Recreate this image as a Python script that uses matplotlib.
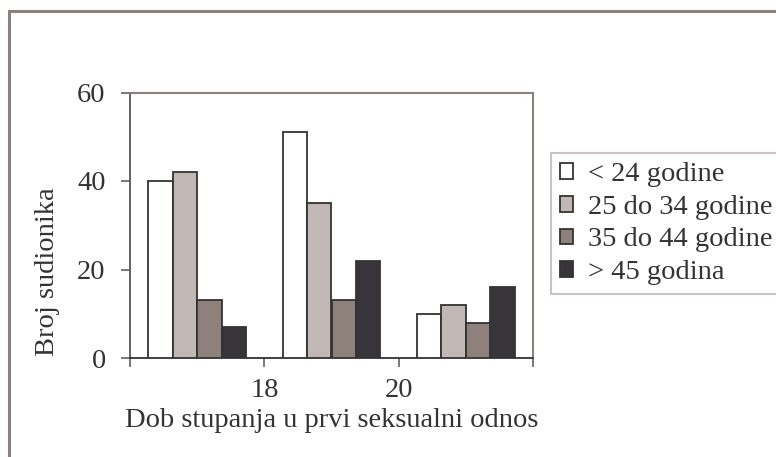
import matplotlib
matplotlib.use("Agg")
import matplotlib.pyplot as plt
from matplotlib.patches import Rectangle
import numpy as np

# Age at first intercourse (category boundaries labelled 18 and 20)
groups = ["< 18", "18 - 20", "> 20"]
boundary_labels = ["", "18", "20", ""]
series_names = ["< 24 godine", "25 do 34 godine", "35 do 44 godine", "> 45 godina"]
under_24 = [40, 51, 10]
age_25_34 = [42, 35, 12]
age_35_44 = [13, 13, 8]
over_45 = [7, 22, 16]
series_values = [under_24, age_25_34, age_35_44, over_45]
colors = ["#FFFFFF", "#C1B7B4", "#8E817C", "#37353A"]

plt.rcParams["font.family"] = ["Liberation Serif", "DejaVu Serif"]
text_color = "#333333"
fs = 20.5

W, H, DPI = 776, 457, 100
fig = plt.figure(figsize=(W / DPI, H / DPI), dpi=DPI)

# outer chart frame (left and top edges visible)
fig.patches.append(Rectangle((9 / W, -0.1), 1.2, 1 - 11 / H + 0.1,
                             transform=fig.transFigure, fill=False,
                             edgecolor="#8A807D", linewidth=2.2))

ax = fig.add_axes([130 / W, 1 - 358 / H, (533 - 130) / W, (358 - 92.5) / H])

n_series = len(series_values)
bar_w = 1 / (n_series + 1.5)
centers = np.arange(len(groups)) + 0.5
for i, (vals, col, name) in enumerate(zip(series_values, colors, series_names)):
    offs = (i - (n_series - 1) / 2) * bar_w
    ax.bar(centers + offs, vals, width=bar_w, color=col, edgecolor="#333333",
           linewidth=1.3, label=name, zorder=3)

ax.set_xlim(0, len(groups))
ax.set_ylim(0, 60)
ax.set_yticks([0, 20, 40, 60])
ax.set_xticks(np.arange(len(groups) + 1))
ax.set_xticklabels(boundary_labels)

for s in ["top", "right"]:
    ax.spines[s].set_color("#8A807D")
    ax.spines[s].set_linewidth(1.5)
ax.spines["left"].set_color("#555555")
ax.spines["left"].set_linewidth(1.3)
ax.spines["bottom"].set_color("#333333")
ax.spines["bottom"].set_linewidth(1.3)

ax.tick_params(axis="both", direction="out", length=6.5, width=1.1,
               color="#555555", labelsize=fs, labelcolor=text_color)
ax.tick_params(axis="y", pad=11)
ax.tick_params(axis="x", pad=8)

ax.set_xlabel("Dob stupanja u prvi seksualni odnos", fontsize=fs, color=text_color)
ax.xaxis.set_label_coords(0.5, -0.19)
fig.text(48 / W, 1 - 272 / H, "Broj sudionika", rotation=90, fontsize=fs,
         color=text_color, ha="center", va="center")

leg = ax.legend(loc="upper left", bbox_to_anchor=(551 / W, 1 - 153 / H),
                bbox_transform=fig.transFigure, fontsize=fs, frameon=True,
                fancybox=False, handlelength=0.47, handleheight=0.47,
                handletextpad=0.5, borderpad=0.32, labelspacing=0.27,
                borderaxespad=0)
leg.get_frame().set_edgecolor("#BDB5B2")
leg.get_frame().set_linewidth(1.5)
for t in leg.get_texts():
    t.set_color(text_color)

fig.savefig("out.png", dpi=DPI)
